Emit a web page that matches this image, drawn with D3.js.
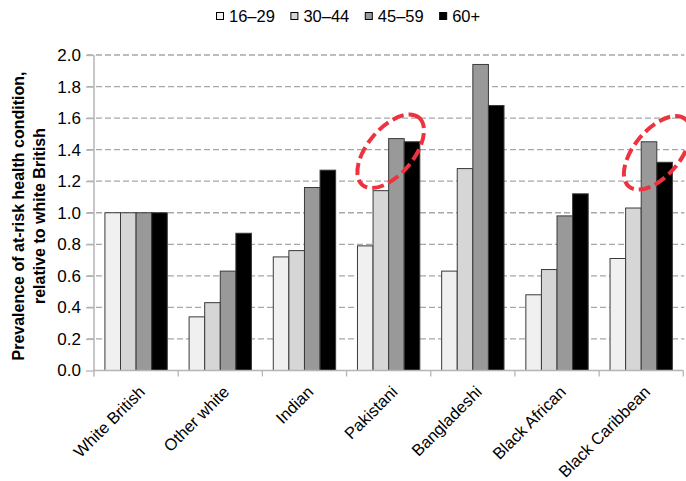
<!DOCTYPE html>
<html><head><meta charset="utf-8">
<script src="https://cdn.jsdelivr.net/npm/d3@7"></script>
<style>
html,body{margin:0;padding:0;background:#fff;}
text{font-family:"Liberation Sans",Arial,Helvetica,sans-serif;}
</style></head>
<body>
<svg id="c" width="686" height="481"></svg>
<script>
const categories = ["White British","Other white","Indian","Pakistani","Bangladeshi","Black African","Black Caribbean"];
const series = ["16–29","30–44","45–59","60+"];
const v16_29 = [1.00,0.34,0.72,0.79,0.63,0.48,0.71];
const v30_44 = [1.00,0.43,0.76,1.14,1.28,0.64,1.03];
const v45_59 = [1.00,0.63,1.16,1.47,1.94,0.98,1.45];
const v60p   = [1.00,0.87,1.27,1.45,1.68,1.12,1.32];
const yTicks = [0,0.2,0.4,0.6,0.8,1.0,1.2,1.4,1.6,1.8,2.0];
const colors = ["#f0f0f0","#d6d6d6","#999999","#000000"];
// highlighted groups (category, centre value)
const highlightCats = ["Pakistani","Black Caribbean"];
const highlightVals = [1.39,1.38];

const values = [v16_29,v30_44,v45_59,v60p];
const svg = d3.select("#c");
const L=94, R=683.3, T=55, B=370.5;
const x0 = d3.scaleBand().domain(categories).range([L,R]).paddingInner(0).paddingOuter(0);
const x1 = d3.scaleBand().domain(series).range([0,x0.bandwidth()]).paddingOuter(0.7).paddingInner(0);
const y = d3.scaleLinear().domain([0,2]).range([B,T]);

// gridlines
svg.append("g").selectAll("line").data(yTicks.filter(d=>d>0)).join("line")
  .attr("x1",87).attr("x2",R+1).attr("y1",d=>y(d)).attr("y2",d=>y(d))
  .attr("stroke","#a8a8a8").attr("stroke-width",1.3).attr("stroke-dasharray","6,3");

// y axis
const ya = svg.append("g").attr("transform",`translate(${L},0)`)
  .call(d3.axisLeft(y).tickValues(yTicks).tickFormat(d3.format(".1f")).tickSize(8).tickPadding(5));
ya.select(".domain").remove();
ya.selectAll(".tick line").attr("stroke","#b5b5b5").attr("stroke-width",1.3);
ya.selectAll(".tick text").attr("font-size",17).attr("fill","#000").style("font-family","'Liberation Sans',Arial,sans-serif");
svg.append("line").attr("x1",L).attr("x2",L).attr("y1",T).attr("y2",B+6).attr("stroke","#b5b5b5").attr("stroke-width",1.5);

// bars
const g = svg.append("g");
categories.forEach((c,i)=>{
  series.forEach((s,j)=>{
    g.append("rect")
      .attr("x",x0(c)+x1(s)).attr("width",x1.bandwidth())
      .attr("y",y(values[j][i])).attr("height",B-y(values[j][i]))
      .attr("fill",colors[j]).attr("stroke","#3a3a3a").attr("stroke-width",1);
  });
});

// x axis
svg.append("line").attr("x1",L).attr("x2",R).attr("y1",B).attr("y2",B).attr("stroke","#b5b5b5").attr("stroke-width",1.5);
const bounds = categories.map(c=>x0(c)).concat([R]);
svg.append("g").selectAll("line").data(bounds.slice(1)).join("line")
  .attr("x1",d=>d).attr("x2",d=>d).attr("y1",B).attr("y2",B+6).attr("stroke","#b5b5b5").attr("stroke-width",1.3);
svg.append("g").selectAll("text").data(categories).join("text")
  .attr("transform",d=>`translate(${x0(d)+x0.bandwidth()/2+10},393) rotate(-45)`)
  .attr("text-anchor","end").attr("font-size",16.5).attr("fill","#000").text(d=>d);

// y title
const yt = svg.append("text").attr("transform","translate(0,216) rotate(-90)")
  .attr("text-anchor","middle").attr("font-size",16).attr("font-weight","bold").attr("fill","#000");
yt.append("tspan").attr("x",0).attr("y",23.5).text("Prevalence of at-risk health condition,");
yt.append("tspan").attr("x",0).attr("y",44.5).text("relative to white British");

// legend
let lx = 216.5;
series.forEach((s,j)=>{
  svg.append("rect").attr("x",lx).attr("y",12.5).attr("width",7).attr("height",7)
    .attr("fill",colors[j]).attr("stroke","#000").attr("stroke-width",1);
  const t = svg.append("text").attr("x",lx+12.5).attr("y",21.5).attr("font-size",16.5).attr("fill","#000").text(s);
  lx += 12.5 + t.node().getComputedTextLength() + 16;
});

// highlight ellipses
const dxs = [2,16];
highlightCats.forEach((c,i)=>{
  const cx = x0(c)+x1("45–59")+dxs[i];
  const cy = y(highlightVals[i]);
  svg.append("ellipse").attr("transform",`translate(${cx},${cy}) rotate(-50)`)
    .attr("rx",44).attr("ry",23).attr("fill","none")
    .attr("stroke","#ee3340").attr("stroke-width",4).attr("stroke-dasharray","12,5");
});
</script>
</body></html>
